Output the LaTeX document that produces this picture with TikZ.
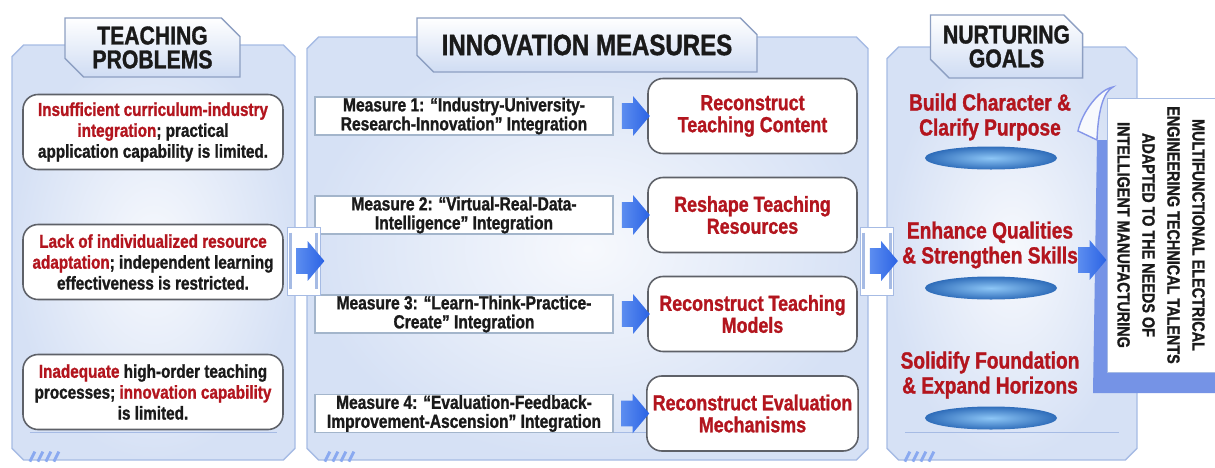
\documentclass[tikz,border=0pt]{standalone}
\usepackage{fontspec}
\setmainfont{Liberation Sans}[FakeStretch=0.82, BoldFont={Liberation Sans Bold}, BoldFeatures={FakeBold=1.2}]
\usepackage{xcolor}
\definecolor{tpRed}{HTML}{B3151E}
\definecolor{tpInk}{HTML}{1A1A1A}
\definecolor{tpArrow}{HTML}{2B63E4}
\definecolor{tpArrowLt}{HTML}{5C8DF0}
\definecolor{tpPanel}{HTML}{D6E1F5}
\definecolor{tpPanelIn}{HTML}{F7F9FD}
\definecolor{tpEdge}{HTML}{A6BBE4}
\definecolor{tpTab}{HTML}{CFDCF3}
\definecolor{tpBox}{HTML}{5E6168}
\definecolor{tpLine}{HTML}{A3B5CB}
\definecolor{tpLens}{HTML}{2F6DBA}
\definecolor{tpLensLt}{HTML}{8DC6F6}
\definecolor{tpBand}{HTML}{7593E6}
\usepackage{tikz}
\usetikzlibrary{calc,shapes.misc,shapes.arrows,shapes.geometric}

\newcommand{\keyred}[1]{\textcolor{tpRed}{#1}}

\tikzset{
  panel/.style={chamfered rectangle, chamfered rectangle xsep=0.3cm,
    draw=tpEdge, line width=0.8pt, inner color=tpPanelIn, outer color=tpPanel},
  tab/.style={chamfered rectangle, chamfered rectangle corners={north east,south west},
    chamfered rectangle xsep=0.25cm, draw=tpEdge!85!black, line width=0.8pt,
    top color=white, bottom color=tpTab, align=center, text=tpInk, inner sep=0pt,
    font=\bfseries\fontsize{14.7}{13.6}\selectfont},
  problem/.style={draw=tpBox, fill=white, rounded corners=0.3cm, line width=0.9pt,
    minimum width=5.2cm, minimum height=1.5cm, align=center, text=tpInk,
    font=\bfseries\fontsize{10.6}{11.9}\selectfont},
  measure/.style={draw=tpLine, fill=white, line width=0.7pt, inner sep=0pt,
    minimum width=5.96cm, minimum height=0.76cm, align=center, text=tpInk,
    font=\bfseries\fontsize{10.8}{10.8}\selectfont},
  result/.style={draw=tpBox, fill=white, rounded corners=0.3cm, line width=0.9pt,
    minimum width=4.18cm, minimum height=1.5cm, align=center, text=tpRed,
    font=\bfseries\fontsize{12.4}{12.5}\selectfont},
  goal/.style={align=center, text=tpRed, font=\bfseries\fontsize{13.3}{14.2}\selectfont},
  lens/.style={ellipse, minimum width=2.64cm, minimum height=0.46cm, inner sep=0pt,
    inner color=tpLensLt, outer color=tpLens},
  blockarrow/.style={single arrow, single arrow head extend=0.14cm, single arrow tip angle=100,
    minimum height=0.56cm, inner xsep=0pt, inner ysep=0.25cm,
    left color=tpArrowLt, right color=tpArrow},
  joint/.style={draw=tpEdge, fill=white, minimum width=0.66cm, minimum height=1.36cm, inner sep=0pt},
  jointbar/.style={tpEdge, line width=1.6pt},
  talentbox/.style={draw=tpEdge, fill=white, rotate=-90, minimum width=5.48cm,
    minimum height=2.16cm, align=center, text=tpInk, inner sep=0pt,
    font=\bfseries\fontsize{10}{14.2}\selectfont}
}

\begin{document}
\begin{tikzpicture}
  \useasboundingbox (0,0) rectangle (24.3,9.34);
  % panels
  \node[panel, minimum width=5.66cm, minimum height=8.3cm] (pb) at (3.07,4.29) {};
  \node[panel, minimum width=11.22cm, minimum height=8.46cm] (pm) at (11.75,4.37) {};
  \node[panel, minimum width=5.0cm, minimum height=8.26cm] (pg) at (20.24,4.27) {};
  \foreach \p in {pb,pm,pg} {
    \draw[tpEdge, line width=0.6pt] ([shift={(0.25,0.45)}]\p.south west) -- ([shift={(-0.25,0.45)}]\p.south east);
    \foreach \s in {0,0.16,0.32,0.48}
      \draw[tpArrow!55, line width=1.6pt] ([shift={(0.25+\s,-0.14)}]\p.south west) -- ++(0.1,0.2);
  }
  % headers
  \node[tab, minimum width=3.5cm, minimum height=1.18cm] (tb) at (3.05,8.39) {TEACHING\\PROBLEMS};
  \node[tab, minimum width=6.8cm, minimum height=1.08cm, font=\bfseries\fontsize{16.7}{16}\selectfont] (tm) at (11.74,8.44) {INNOVATION MEASURES};
  \node[tab, minimum width=2.94cm, minimum height=1.26cm] (tg) at (20.13,8.41) {NURTURING\\GOALS};
  % teaching problems
  \node[problem] (p1) at (3.06,6.7) {\keyred{Insufficient curriculum-industry}\\\keyred{integration}; practical\\application capability is limited.};
  \node[problem] (p2) at (3.06,4.1) {\keyred{Lack of individualized resource}\\\keyred{adaptation}; independent learning\\effectiveness is restricted.};
  \node[problem] (p3) at (3.06,1.5) {\keyred{Inadequate} high-order teaching\\processes; \keyred{innovation capability}\\is limited.};
  % innovation measures
  \node[measure] (m1) at (9.28,7.02) {Measure 1: “Industry-University-\\Research-Innovation” Integration};
  \node[measure] (m2) at (9.28,5.04) {Measure 2: “Virtual-Real-Data-\\Intelligence” Integration};
  \node[measure] (m3) at (9.28,3.06) {Measure 3: “Learn-Think-Practice-\\Create” Integration};
  \node[measure] (m4) at (9.28,1.07) {Measure 4: “Evaluation-Feedback-\\Improvement-Ascension” Integration};
  \node[result] (r1) at (15.05,7.02) {Reconstruct\\Teaching Content};
  \node[result] (r2) at (15.05,5.04) {Reshape Teaching\\Resources};
  \node[result] (r3) at (15.05,3.06) {Reconstruct Teaching\\Models};
  \node[result] (r4) at (15.05,1.07) {Reconstruct Evaluation\\Mechanisms};
  \foreach \i in {1,...,4}
    \node[blockarrow] at ($(m\i.east)!0.5!(r\i.west)$) {};
  % nurturing goals
  \node[goal] (g1) at (19.8,7.0) {Build Character \&\\Clarify Purpose};
  \node[goal] (g2) at (19.8,4.44) {Enhance Qualities\\\& Strengthen Skills};
  \node[goal] (g3) at (19.8,1.84) {Solidify Foundation\\\& Expand Horizons};
  \node[lens] (e1) at (19.82,6.18) {};
  \node[lens] (e2) at (19.82,3.58) {};
  \node[lens] (e3) at (19.82,0.98) {};
  % joints between panels
  \foreach \n/\x in {j1/6.07, j2/17.54} {
    \node[joint] (\n) at (\x,4.12) {};
    \draw[jointbar] ([shift={(0.07,-0.12)}]\n.north west) -- ([shift={(0.07,0.12)}]\n.south west);
    \draw[jointbar] ([shift={(-0.07,-0.12)}]\n.north east) -- ([shift={(-0.07,0.12)}]\n.south east);
    \node[blockarrow] at ([xshift=0.03cm]\n) {};
  }
  % talents
  \fill[tpBand] (21.86,1.48) -- (21.94,6.54) -- (22.14,6.54) -- (22.14,1.9) -- (24.3,1.9) -- (24.3,1.48) -- cycle;
  \draw[tpEdge!80!blue, fill=tpPanelIn, line width=0.8pt] (21.94,6.54) .. controls (21.96,7.1) and (22.06,7.5) .. (22.26,7.6) .. controls (21.98,7.55) and (21.64,7.1) .. (21.56,6.72) -- cycle;
  \node[talentbox] (tt) at (23.22,4.64) {MULTIFUNCTIONAL ELECTRICAL\\ENGINEERING TECHNICAL TALENTS\\ADAPTED TO THE NEEDS OF\\INTELLIGENT MANUFACTURING};
  \node[blockarrow] at (21.74,4.14) {};
\end{tikzpicture}
\end{document}
